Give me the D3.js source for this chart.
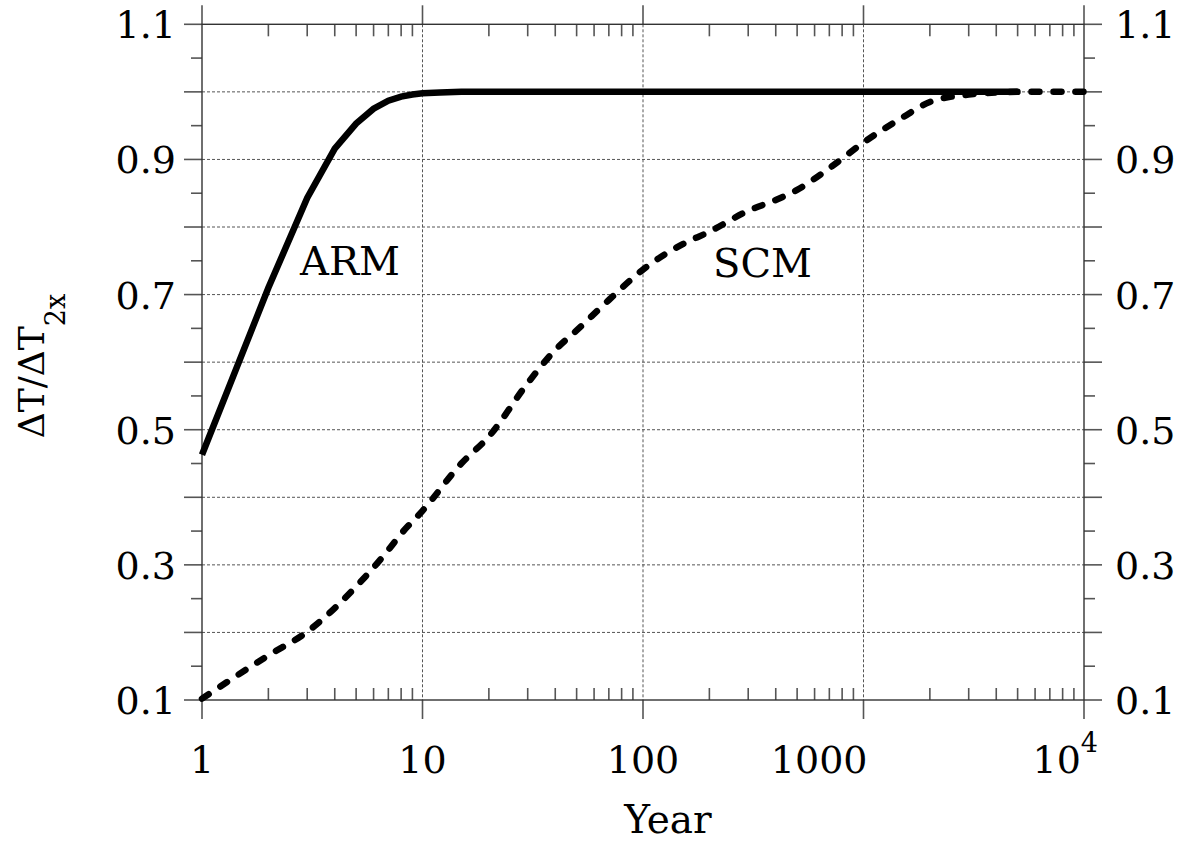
<html>
<head>
<script src="https://cdn.jsdelivr.net/npm/d3@7"></script>
<style>
  body { margin: 0; background: #fff; }
  text { font-family: "DejaVu Serif", serif; fill: #000; }
</style>
</head>
<body>
<div id="chart"></div>
<script>
// response curves
var armYears  = [1, 2, 3, 4, 5, 6, 7, 8, 9, 10, 12, 15, 20, 50, 100, 1000, 5000];
var armValues = [0.463, 0.71, 0.843, 0.916, 0.953, 0.975, 0.987, 0.993, 0.996, 0.998, 0.999, 1, 1, 1, 1, 1, 1];

var scmYears  = [1, 2, 3, 4, 5, 6, 7, 8, 10, 15, 20, 30, 40, 50, 70, 100, 150, 200, 300, 400, 500, 700, 1000, 1500, 2000, 3000, 5000, 10000];
var scmValues = [0.102, 0.166, 0.201, 0.236, 0.268, 0.296, 0.322, 0.346, 0.380, 0.450, 0.490, 0.569, 0.618, 0.647, 0.692, 0.737, 0.774, 0.793, 0.824, 0.840, 0.855, 0.887, 0.925, 0.962, 0.985, 0.996, 1.0, 1.0];

var xTickLabels = ["1", "10", "100", "1000", "10^4"];
var yTickLabels = ["0.1", "0.3", "0.5", "0.7", "0.9", "1.1"];

var W = 1178, H = 844;
var plotL = 202, plotR = 1084, plotT = 24.3, plotB = 700;

var svg = d3.select("#chart").append("svg")
  .attr("width", W)
  .attr("height", H);

var x = d3.scaleLog().domain([1, 1e4]).range([plotL, plotR]);
var y = d3.scaleLinear().domain([0.1, 1.1]).range([plotB, plotT]);

var isMajorX = function(d) { return Math.abs(Math.log10(d) - Math.round(Math.log10(d))) < 1e-9; };
var xAll = x.ticks();
var xMajor = xAll.filter(isMajorX);
var xMinor = xAll.filter(function(d) { return !isMajorX(d); });

var yAll = d3.range(0, 21).map(function(i) { return +(0.1 + i * 0.05).toFixed(2); });
var isMajorY = function(d) { return Math.abs(d * 10 - Math.round(d * 10)) < 1e-6; };

// grid
var grid = svg.append("g")
  .attr("stroke", "#555")
  .attr("stroke-width", 1)
  .attr("stroke-dasharray", "3,2");
grid.selectAll("line.gx")
  .data(xMajor.slice(1, -1))
  .enter().append("line")
    .attr("x1", function(d) { return x(d); })
    .attr("x2", function(d) { return x(d); })
    .attr("y1", plotT).attr("y2", plotB);
grid.selectAll("line.gy")
  .data(yAll.filter(isMajorY).slice(1, -1))
  .enter().append("line")
    .attr("y1", function(d) { return y(d); })
    .attr("y2", function(d) { return y(d); })
    .attr("x1", plotL).attr("x2", plotR);

// ticks
var ticks = svg.append("g")
  .attr("stroke", "#555")
  .attr("stroke-width", 1.6);

// x minor ticks point inward, majors outward
[plotB, plotT].forEach(function(yy, k) {
  var dir = k === 0 ? -1 : 1;
  ticks.selectAll(null)
    .data(xMinor)
    .enter().append("line")
      .attr("x1", function(d) { return x(d); })
      .attr("x2", function(d) { return x(d); })
      .attr("y1", yy).attr("y2", yy + dir * 12);
  ticks.selectAll(null)
    .data(xMajor)
    .enter().append("line")
      .attr("x1", function(d) { return x(d); })
      .attr("x2", function(d) { return x(d); })
      .attr("y1", yy).attr("y2", yy - dir * 19);
});

// y ticks outward on both sides
[plotL, plotR].forEach(function(xx, k) {
  var dir = k === 0 ? -1 : 1;
  ticks.selectAll(null)
    .data(yAll)
    .enter().append("line")
      .attr("y1", function(d) { return y(d); })
      .attr("y2", function(d) { return y(d); })
      .attr("x1", xx)
      .attr("x2", function(d) { return xx + dir * (isMajorY(d) ? 18 : 11); });
});

// frame
svg.append("rect")
  .attr("x", plotL).attr("y", plotT)
  .attr("width", plotR - plotL).attr("height", plotB - plotT)
  .attr("fill", "none")
  .attr("stroke", "#333")
  .attr("stroke-width", 1.4);

// curves
var arm = armYears.map(function(d, i) { return [d, armValues[i]]; });
var scm = scmYears.map(function(d, i) { return [d, scmValues[i]]; });

svg.append("path")
  .datum(arm)
  .attr("d", d3.line()
    .x(function(d) { return x(d[0]); })
    .y(function(d) { return y(d[1]); }))
  .attr("fill", "none")
  .attr("stroke", "#000")
  .attr("stroke-width", 6.5);

svg.append("path")
  .datum(scm)
  .attr("d", d3.line()
    .curve(d3.curveMonotoneX)
    .x(function(d) { return x(d[0]); })
    .y(function(d) { return y(d[1]); }))
  .attr("fill", "none")
  .attr("stroke", "#000")
  .attr("stroke-width", 6.5)
  .attr("stroke-linecap", "round")
  .attr("stroke-dasharray", "8,14");

// x tick labels
var xLab = svg.append("g").attr("font-size", 38);
xMajor.forEach(function(d, i) {
  var lab = xTickLabels[i];
  var t = xLab.append("text").attr("y", 773);
  if (lab.indexOf("^") >= 0) {
    var parts = lab.split("^");
    t.attr("x", x(d) + 14).attr("text-anchor", "end");
    t.append("tspan").text(parts[0]);
    t.append("tspan").attr("font-size", 27).attr("dy", -21).text(parts[1]);
  } else if (i === 3) {
    t.attr("x", x(d) + 4).attr("text-anchor", "end").text(lab);
  } else {
    t.attr("x", x(d)).attr("text-anchor", "middle").text(lab);
  }
});

// y tick labels, both sides
var yLabVals = yAll.filter(function(d, i) { return i % 4 === 0; });
var yLab = svg.append("g").attr("font-size", 38);
yLab.selectAll("text.l")
  .data(yLabVals)
  .enter().append("text")
    .attr("x", plotL - 26)
    .attr("y", function(d) { return y(d) + 14; })
    .attr("text-anchor", "end")
    .text(function(d, i) { return yTickLabels[i]; });
yLab.selectAll("text.r")
  .data(yLabVals)
  .enter().append("text")
    .attr("x", plotR + 31)
    .attr("y", function(d) { return y(d) + 14; })
    .attr("text-anchor", "start")
    .text(function(d, i) { return yTickLabels[i]; });

// axis titles
svg.append("text")
  .attr("x", 668).attr("y", 833)
  .attr("text-anchor", "middle")
  .attr("font-size", 39)
  .text("Year");

var yt = svg.append("text")
  .attr("transform", "translate(44,366) rotate(-90)")
  .attr("text-anchor", "middle")
  .attr("font-size", 36);
yt.append("tspan").text("ΔT/ΔT");
yt.append("tspan").attr("font-size", 27).attr("dy", 21).text("2x");

// curve labels
svg.append("text").attr("x", 300).attr("y", 275).attr("font-size", 40).text("ARM");
svg.append("text").attr("x", 713).attr("y", 277).attr("font-size", 40).text("SCM");
</script>
</body>
</html>
